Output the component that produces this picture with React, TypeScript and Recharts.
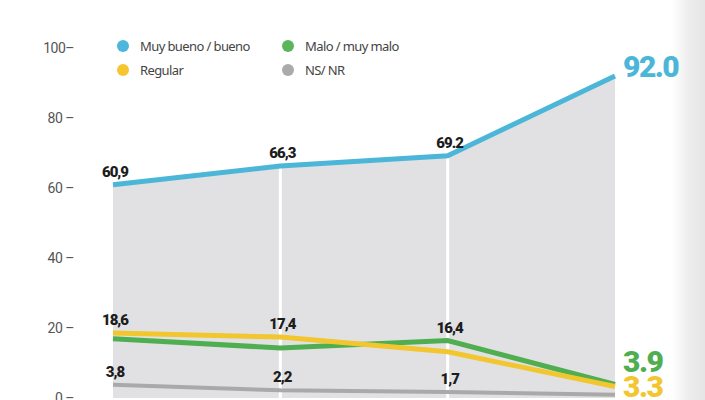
import React from "react";
import { ComposedChart, Area, Line, XAxis, YAxis, ReferenceLine, LabelList } from "recharts";

const categories = ["1", "2", "3", "4"];
const muyBueno = [60.9, 66.3, 69.2, 92.0];
const regular = [18.6, 17.4, 13.2, 3.3];
const malo = [16.9, 14.3, 16.4, 3.9];
const nsnr = [3.8, 2.2, 1.7, 0.9];
const muyBuenoLabels = ["60,9", "66,3", "69.2", "92.0"];
const regularLabels = ["18,6", "17,4", "", "3.3"];
const maloLabels = ["", "", "16,4", "3.9"];
const nsnrLabels = ["3,8", "2,2", "1,7", ""];
const yTicks = [0, 20, 40, 60, 80, 100];
const legendItems = [
  { name: "Muy bueno / bueno", color: "#4db6dc" },
  { name: "Malo / muy malo", color: "#5cb55c" },
  { name: "Regular", color: "#f5c630" },
  { name: "NS/ NR", color: "#aaaaaa" },
];

const data = categories.map((c, i) => ({
  cat: c,
  muyBueno: muyBueno[i],
  regular: regular[i],
  malo: malo[i],
  nsnr: nsnr[i],
  muyBuenoLabel: muyBuenoLabels[i],
  regularLabel: regularLabels[i],
  maloLabel: maloLabels[i],
  nsnrLabel: nsnrLabels[i],
}));

const FONT = "Roboto, 'Liberation Sans', sans-serif";

const makeLabel = (color: string, lastDy: number) => (props: any) => {
  const { x, y, value, index } = props;
  if (!value) return null;
  if (index === categories.length - 1) {
    return (
      <text x={x + 8} y={y + lastDy} fill={color} fontFamily={FONT} fontWeight={900} fontSize={30} letterSpacing={-1.5} textAnchor="start">
        {value}
      </text>
    );
  }
  return (
    <text x={x + 2} y={y - 8} fill="#1d1d1d" fontFamily={FONT} fontWeight={900} fontSize={15} letterSpacing={-1} textAnchor="middle">
      {value}
    </text>
  );
};

const YTick = (props: any) => {
  const { y, payload } = props;
  const v = payload.value;
  return (
    <text x={74} y={y + 5} fill="#555" fontFamily={FONT} fontSize={14} textAnchor="end" letterSpacing={-0.5}>
      {v === 100 ? "100–" : `${v} –`}
    </text>
  );
};

const LegendBox = () => (
  <svg style={{ position: "absolute", left: 0, top: 0, pointerEvents: "none" }} width={705} height={400}>
    {legendItems.map((it, i) => {
      const col = i % 2;
      const row = Math.floor(i / 2);
      const cx = col === 0 ? 123 : 288;
      const cy = row === 0 ? 46 : 70;
      return (
        <g key={it.name}>
          <circle cx={cx} cy={cy} r={6} fill={it.color} />
          <text x={cx + 17} y={cy + 5} fontFamily="'Noto Sans', sans-serif" fontSize={13} fill="#444" letterSpacing={-0.6}>
            {it.name}
          </text>
        </g>
      );
    })}
  </svg>
);

export default function App() {
  return (
    <div
      style={{
        position: "absolute",
        left: 0,
        top: 0,
        width: 705,
        height: 400,
        overflow: "hidden",
        background: "linear-gradient(to right, #ffffff 0px, #ffffff 672px, #ececec 690px, #e6e6e6 705px)",
      }}
    >
      <ComposedChart width={705} height={400} data={data} margin={{ top: 48, right: 90, bottom: 2, left: 0 }}>
        <XAxis dataKey="cat" hide padding={{ left: 0, right: 0 }} />
        <YAxis
          domain={[0, 100]}
          ticks={yTicks}
          width={113}
          axisLine={false}
          tickLine={false}
          tick={<YTick />}
          interval={0}
        />
        <Area type="linear" dataKey="muyBueno" stroke="none" fill="#e1e1e3" fillOpacity={1} isAnimationActive={false} />
        <ReferenceLine x="2" stroke="#ffffff" strokeWidth={3} />
        <ReferenceLine x="3" stroke="#ffffff" strokeWidth={3} />
        <Line type="linear" dataKey="nsnr" stroke="#a9a9a9" strokeWidth={4} dot={false} isAnimationActive={false}>
          <LabelList dataKey="nsnrLabel" content={makeLabel("#a9a9a9", 0)} />
        </Line>
        <Line type="linear" dataKey="malo" stroke="#4fae4f" strokeWidth={5} dot={false} isAnimationActive={false}>
          <LabelList dataKey="maloLabel" content={makeLabel("#4fae4f", -12)} />
        </Line>
        <Line type="linear" dataKey="regular" stroke="#f2c62e" strokeWidth={5} dot={false} isAnimationActive={false}>
          <LabelList dataKey="regularLabel" content={makeLabel("#f2c62e", 11)} />
        </Line>
        <Line type="linear" dataKey="muyBueno" stroke="#4cb6d8" strokeWidth={5} dot={false} isAnimationActive={false}>
          <LabelList dataKey="muyBuenoLabel" content={makeLabel("#4cb6d8", 1)} />
        </Line>
      </ComposedChart>
      <LegendBox />
    </div>
  );
}
